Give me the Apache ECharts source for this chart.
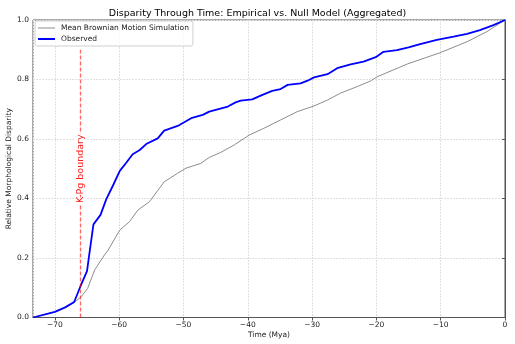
<!DOCTYPE html>
<html>
<head>
<meta charset="utf-8">
<script src="https://cdn.jsdelivr.net/npm/echarts@6/dist/echarts.min.js"></script>
<style>
  html, body { margin: 0; padding: 0; background: #fff; }
  #chart { width: 515px; height: 344px; }
</style>
</head>
<body>
<div id="chart"></div>
<script>
// observed disparity curve (time in Mya, relative disparity)
const obsTime = [-73.4, -73.1, -70.0, -68.4, -67.0, -66.0, -65.0, -64.6, -64.0, -62.9, -62.0, -61.0, -59.9, -58.9, -57.9, -56.8, -55.8, -54.0, -53.0, -50.9, -48.8, -47.0, -46.0, -43.1, -41.9, -41.1, -39.3, -38.0, -36.2, -34.9, -33.8, -31.8, -30.7, -29.7, -27.6, -26.1, -24.0, -22.0, -20.1, -18.9, -16.8, -15.0, -13.2, -10.6, -8.0, -5.9, -3.9, -1.8, 0]
const obsValue = [0.0, 0.003, 0.019, 0.034, 0.052, 0.106, 0.156, 0.22, 0.313, 0.345, 0.398, 0.442, 0.493, 0.52, 0.549, 0.563, 0.583, 0.602, 0.628, 0.644, 0.67, 0.681, 0.692, 0.709, 0.723, 0.729, 0.733, 0.746, 0.762, 0.768, 0.782, 0.787, 0.796, 0.807, 0.818, 0.838, 0.851, 0.86, 0.875, 0.893, 0.899, 0.908, 0.919, 0.933, 0.944, 0.953, 0.966, 0.983, 1.0]

// mean brownian motion null model
const nullTime = [-73.4, -73.1, -70.0, -68.4, -67.0, -65.9, -64.9, -63.8, -62.3, -61.7, -59.9, -58.4, -57.1, -55.3, -53.0, -50.9, -49.6, -47.3, -46.0, -44.2, -42.1, -39.8, -37.5, -34.9, -32.3, -29.7, -27.6, -25.6, -23.0, -20.9, -19.9, -15.2, -10.1, -5.9, -2.8, 0]
const nullValue = [0.0, 0.003, 0.019, 0.034, 0.05, 0.07, 0.098, 0.16, 0.21, 0.227, 0.294, 0.322, 0.361, 0.389, 0.456, 0.485, 0.502, 0.518, 0.538, 0.555, 0.58, 0.613, 0.636, 0.664, 0.692, 0.711, 0.731, 0.754, 0.776, 0.795, 0.809, 0.852, 0.89, 0.927, 0.961, 1.0]

const boundaryTime = -66
const boundaryTop = 0.9
const boundaryText = 'K-Pg boundary'

const fontFamily = 'DejaVu Sans'
const textColor = '#222'
const gridColor = '#e0e0e0'

const zip = (xs, ys) => xs.map((x, i) => [x, ys[i]])
const minus = v => String(v).replace('-', '\u2212')

const chart = echarts.init(document.getElementById('chart'), null, { renderer: 'canvas' })

const option = {
  animation: false,
  textStyle: { fontFamily: fontFamily },
  title: {
    text: 'Disparity Through Time: Empirical vs. Null Model (Aggregated)',
    left: 'center',
    top: 4,
    textStyle: { fontFamily: fontFamily, fontSize: 9.5, fontWeight: 'normal', color: '#000' }
  },
  legend: {
    orient: 'vertical',
    left: 35,
    top: 21,
    itemWidth: 17,
    itemHeight: 8,
    itemGap: 3,
    padding: [3, 4, 3, 3],
    borderColor: '#d0d0d0',
    borderWidth: 1,
    borderRadius: 2,
    backgroundColor: 'rgba(255,255,255,0.8)',
    textStyle: { fontFamily: fontFamily, fontSize: 7.5, color: textColor, padding: [0, 0, 0, 1] },
    data: [
      { name: 'Mean Brownian Motion Simulation', icon: 'path://M0 0H17V1H0Z' },
      { name: 'Observed', icon: 'path://M0 0H17V2H0Z' }
    ]
  },
  grid: {
    left: 33,
    right: 10,
    top: 20,
    bottom: 26.5,
    outerBoundsMode: 'none',
    containLabel: false,
    show: true,
    borderColor: '#555',
    borderWidth: 1
  },
  xAxis: {
    type: 'value',
    min: -73.4,
    max: 0,
    name: 'Time (Mya)',
    nameLocation: 'middle',
    nameGap: 14,
    nameMoveOverlap: false,
    nameTextStyle: { fontFamily: fontFamily, fontSize: 7.5, color: textColor },
    axisLine: { lineStyle: { color: '#555' } },
    axisTick: { length: 3, lineStyle: { color: '#555' } },
    axisLabel: {
      showMinLabel: false,
      margin: 4,
      fontSize: 7.5,
      color: textColor,
      formatter: v => minus(v)
    },
    splitLine: { show: true, lineStyle: { color: gridColor, type: [2, 1] } }
  },
  yAxis: {
    type: 'value',
    min: 0,
    max: 1,
    interval: 0.2,
    name: 'Relative Morphological Disparity',
    nameLocation: 'middle',
    nameGap: 20,
    nameMoveOverlap: false,
    nameTextStyle: { fontFamily: fontFamily, fontSize: 7.5, color: textColor },
    axisLine: { show: true, lineStyle: { color: '#555' } },
    axisTick: { show: true, length: 3, lineStyle: { color: '#555' } },
    axisLabel: {
      margin: 4,
      fontSize: 7.5,
      color: textColor,
      formatter: v => v.toFixed(1)
    },
    splitLine: { show: true, lineStyle: { color: gridColor, type: [2, 1] } }
  },
  series: [
    {
      name: 'Mean Brownian Motion Simulation',
      type: 'line',
      symbol: 'none',
      data: zip(nullTime, nullValue),
      lineStyle: { color: '#8c8c8c', width: 1 },
      itemStyle: { color: '#8c8c8c' },
      z: 2
    },
    {
      name: 'Observed',
      type: 'line',
      symbol: 'none',
      data: zip(obsTime, obsValue),
      lineStyle: { color: '#0000ff', width: 1.8 },
      itemStyle: { color: '#0000ff' },
      z: 3,
      markLine: {
        silent: true,
        symbol: 'none',
        label: { show: false },
        lineStyle: { color: 'rgba(255,0,0,0.6)', type: [4, 2], width: 1.3 },
        data: [[{ coord: [boundaryTime, 0] }, { coord: [boundaryTime, boundaryTop] }]]
      },
      markPoint: {
        silent: true,
        symbol: 'rect',
        symbolSize: 0,
        data: [{ coord: [boundaryTime, 0.5] }],
        label: {
          show: true,
          position: 'inside',
          rotate: 90,
          formatter: boundaryText,
          color: '#ff1a1a',
          fontFamily: fontFamily,
          fontSize: 9.5,
          backgroundColor: '#fff',
          padding: [0, 1]
        }
      }
    }
  ]
}

chart.setOption(option)
</script>
</body>
</html>
